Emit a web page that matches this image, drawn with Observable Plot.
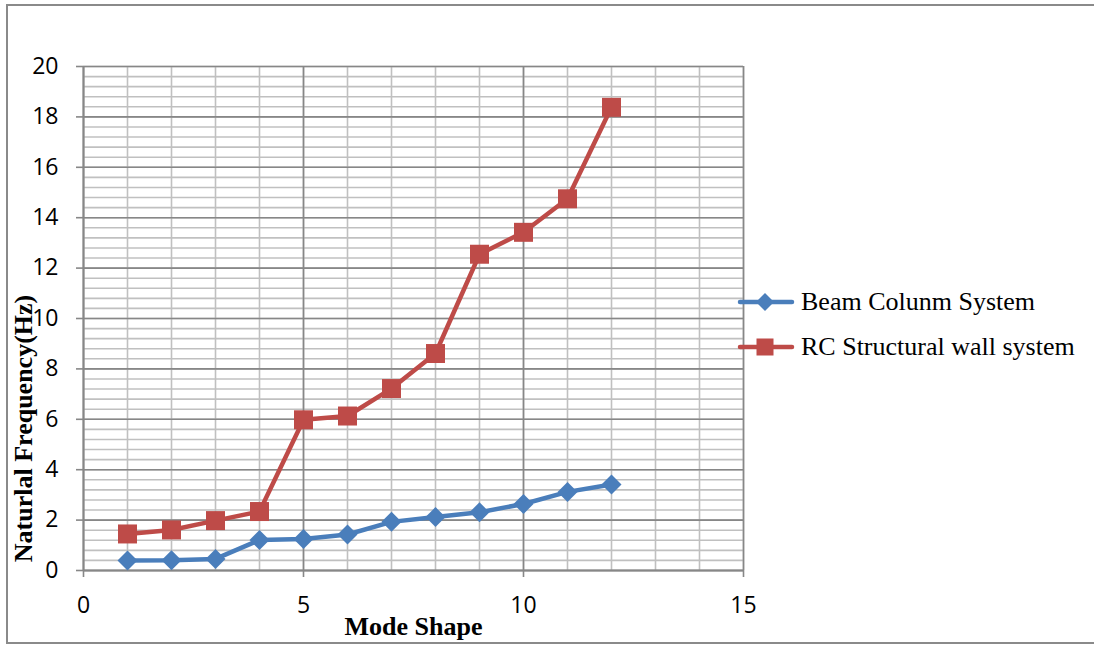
<!DOCTYPE html>
<html>
<head>
<meta charset="utf-8">
<script src="https://cdn.jsdelivr.net/npm/d3@7"></script>
<script src="https://cdn.jsdelivr.net/npm/@observablehq/plot@0.6"></script>
<style>
  html, body { margin: 0; padding: 0; background: #fff; overflow: hidden; }
  #chart { position: relative; width: 1094px; height: 645px; overflow: hidden; background: #fff; }
  .edge { position: absolute; background: #8a8a8a; pointer-events: none; }
  #plot { position: absolute; left: 0; top: 0; }
  .legend-row { position: absolute; left: 734px; height: 30px; display: flex; align-items: center; white-space: nowrap;
                font-family: "Liberation Serif", "Times New Roman", serif; font-size: 26px; color: #000; }
  .legend-row svg { display: block; margin-right: 3px; }
</style>
</head>
<body>
<div id="chart">
  <div id="plot"></div>
  <div id="legend"></div>
  <div class="edge" style="left:6px; top:4px; width:1088px; height:2px;"></div>
  <div class="edge" style="left:6px; top:4px; width:2px; height:640px;"></div>
  <div class="edge" style="left:6px; top:642px; width:1088px; height:2px;"></div>
</div>
<script>
// Mode shapes and natural frequencies (Hz) for the two structural systems
const modes = [1, 2, 3, 4, 5, 6, 7, 8, 9, 10, 11, 12];
const beamColumn = [0.40, 0.41, 0.46, 1.21, 1.25, 1.43, 1.93, 2.12, 2.31, 2.64, 3.12, 3.41];
const rcWall = [1.45, 1.61, 1.98, 2.34, 5.98, 6.13, 7.22, 8.61, 12.55, 13.42, 14.75, 18.38];

const seriesNames = ["Beam Colunm System", "RC Structural wall system"];
const seriesColors = ["#4a7ebb", "#be4b48"];

// Axis ticks and grid divisions
const xTicks = [0, 5, 10, 15];
const yTicks = [0, 2, 4, 6, 8, 10, 12, 14, 16, 18, 20];
const xMinor = d3.range(0, 16, 1);
const yMinor = d3.range(0, 51).map(i => +(i * 0.4).toFixed(1));

const beamData = modes.map((m, i) => ({mode: m, freq: beamColumn[i]}));
const wallData = modes.map((m, i) => ({mode: m, freq: rcWall[i]}));

// Marker shapes: rotated square and square, half-size = r
const diamond = {draw(ctx, size) { const h = Math.sqrt(size / Math.PI);
  ctx.moveTo(0, -h); ctx.lineTo(h, 0); ctx.lineTo(0, h); ctx.lineTo(-h, 0); ctx.closePath(); }};
const square = {draw(ctx, size) { const h = Math.sqrt(size / Math.PI);
  ctx.rect(-h, -h, 2 * h, 2 * h); }};

const minorGrid = "#c0c0c0";
const majorGrid = "#878787";
const tickFont = "'Open Sans', 'Noto Sans', sans-serif";
const titleFont = "'Liberation Serif', 'Times New Roman', serif";

const chart = Plot.plot({
  width: 1094,
  height: 645,
  marginLeft: 83,
  marginRight: 351,
  marginTop: 66,
  marginBottom: 75,
  style: {background: "transparent"},
  x: {domain: [0, 15]},
  y: {domain: [0, 20]},
  marks: [
    Plot.gridX(xMinor, {stroke: minorGrid, strokeOpacity: 1, strokeWidth: 1.6}),
    Plot.gridY(yMinor, {stroke: minorGrid, strokeOpacity: 1, strokeWidth: 1.6}),
    Plot.gridX(xTicks, {stroke: majorGrid, strokeOpacity: 1, strokeWidth: 1.6}),
    Plot.gridY(yTicks, {stroke: majorGrid, strokeOpacity: 1, strokeWidth: 1.6}),
    Plot.ruleX([0], {stroke: majorGrid, strokeWidth: 1.8}),
    Plot.ruleY([0], {stroke: majorGrid, strokeWidth: 1.8}),
    Plot.axisY(yTicks, {tickSize: 7, tickPadding: 18, fontSize: 23, fontFamily: tickFont, label: null,
      stroke: majorGrid, strokeWidth: 1.6, fill: "#000"}),
    Plot.axisX(xTicks, {tickSize: 7, tickPadding: 19, fontSize: 23, fontFamily: tickFont, label: null,
      stroke: majorGrid, strokeWidth: 1.6, fill: "#000"}),
    Plot.line(beamData, {x: "mode", y: "freq", stroke: seriesColors[0], strokeWidth: 4.5,
      strokeLinejoin: "round", strokeLinecap: "round"}),
    Plot.line(wallData, {x: "mode", y: "freq", stroke: seriesColors[1], strokeWidth: 4.5,
      strokeLinejoin: "round", strokeLinecap: "round"}),
    Plot.dot(beamData, {x: "mode", y: "freq", symbol: diamond, r: 10, fill: seriesColors[0], stroke: "none"}),
    Plot.dot(wallData, {x: "mode", y: "freq", symbol: square, r: 9.5, fill: seriesColors[1], stroke: "none"}),
    Plot.text(["Mode Shape"], {frameAnchor: "bottom", lineAnchor: "bottom", dy: 64,
      fontFamily: titleFont, fontWeight: "bold", fontSize: 26, fill: "#000"}),
    Plot.text(["Naturlal Frequency(Hz)"], {frameAnchor: "left", textAnchor: "middle", lineAnchor: "bottom",
      rotate: -90, dx: -52, dy: 110, fontFamily: titleFont, fontWeight: "bold", fontSize: 26, fill: "#000"})
  ]
});
document.getElementById("plot").appendChild(chart);

// Legend to the right of the plot area
const legend = d3.select("#legend");
const legendY = [302, 347];
seriesNames.forEach((name, i) => {
  const row = legend.append("div").attr("class", "legend-row").style("top", (legendY[i] - 15) + "px");
  const svg = row.append("svg").attr("width", 64).attr("height", 30);
  svg.append("line").attr("x1", 6).attr("x2", 58).attr("y1", 15).attr("y2", 15)
    .attr("stroke", seriesColors[i]).attr("stroke-width", 4.5).attr("stroke-linecap", "round");
  if (i === 0) {
    svg.append("path").attr("d", "M31,6L40,15L31,24L22,15Z").attr("fill", seriesColors[i]);
  } else {
    svg.append("rect").attr("x", 22.5).attr("y", 6.5).attr("width", 17).attr("height", 17).attr("fill", seriesColors[i]);
  }
  row.append("span").text(name);
});
</script>
</body>
</html>
